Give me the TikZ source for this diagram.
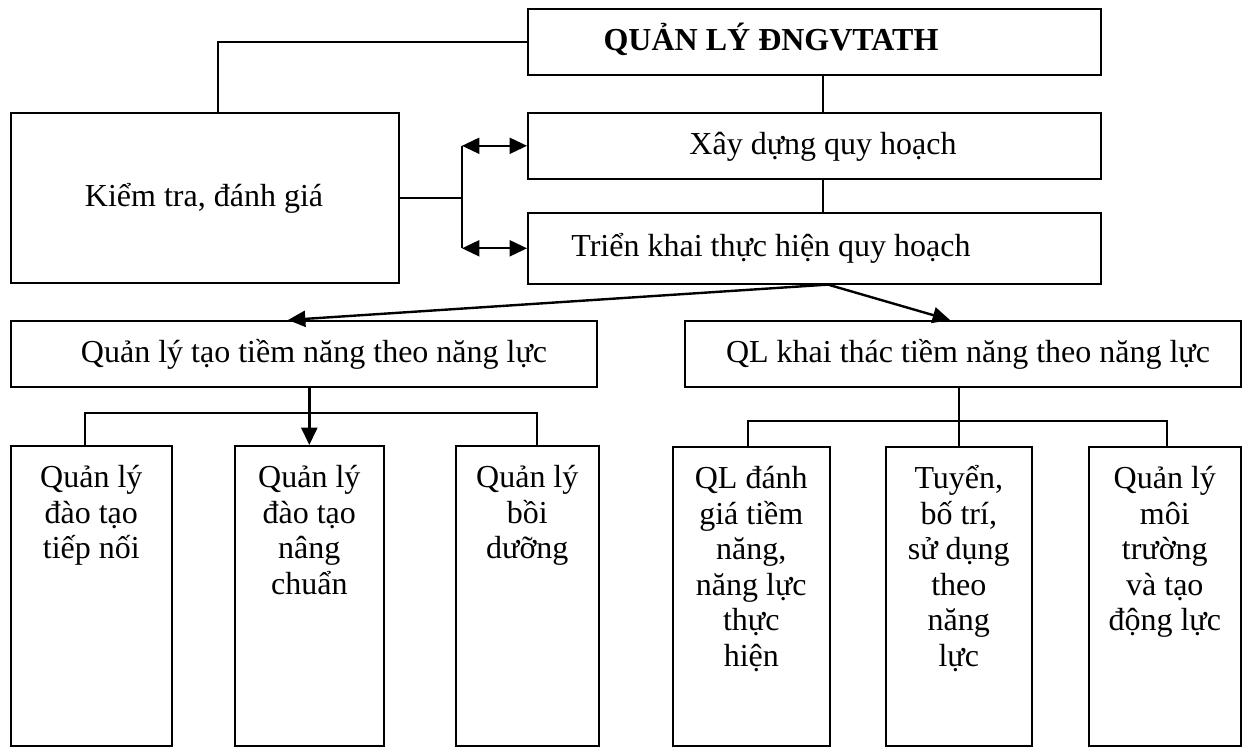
\documentclass[tikz,border=0pt]{standalone}
\usepackage{fontspec}
\setmainfont{Liberation Serif}
\usetikzlibrary{arrows.meta,calc}
\newcommand\colbox[3]{\parbox[c][#2][t]{#1}{\centering\rule{0pt}{31.5pt}#3}}
\begin{document}
\begin{tikzpicture}[x=0.75pt,y=-0.75pt,
  box/.style={draw, line width=1.2pt, inner sep=0pt, anchor=north west},
  lbl/.style={inner sep=0pt, anchor=base, font=\fontsize{24}{26.6}\selectfont},
  col/.style={box, font=\fontsize{24}{26.6}\selectfont},
  conn/.style={line width=1.2pt},
  arr/.style={line width=1.8pt, -{Triangle[length=13pt,width=12pt]}},
  darr/.style={line width=1.5pt, {Triangle[length=13pt,width=12pt]}-{Triangle[length=13pt,width=12pt]}},
]
\useasboundingbox (0,0) rectangle (1252,749);
% boxes
\node[box, minimum width=429.75pt, minimum height=49.5pt] (top) at (527,8) {};
\node[box, minimum width=291pt, minimum height=127.5pt] (kt) at (10,112) {};
\node[box, minimum width=429.75pt, minimum height=49.5pt] (xd) at (527,112) {};
\node[box, minimum width=429.75pt, minimum height=53.25pt] (tk) at (527,212) {};
\node[box, minimum width=439.5pt, minimum height=49.5pt] (ql1) at (10,320) {};
\node[box, minimum width=417pt, minimum height=49.5pt] (ql2) at (684,320) {};
% texts
\node[lbl] (topT) at (771,51) {\bfseries QUẢN LÝ ĐNGVTATH};
\node[lbl] (xdT) at (823,154) {Xây dựng quy hoạch};
\node[lbl] (tkT) at (771,256) {Triển khai thực hiện quy hoạch};
\node[lbl] (ktT) at (204,206) {Kiểm tra, đánh giá};
\node[lbl] (q1T) at (314,362) {Quản lý tạo tiềm năng theo năng lực};
\node[lbl] (q2T) at (968,362) {QL khai thác tiềm năng theo năng lực};
% bottom columns
\node[col] (b1) at (10,445) {\colbox{120.75pt}{225pt}{Quản lý\\ đào tạo\\ tiếp nối}};
\node[col] (b2) at (234,445) {\colbox{111.75pt}{225pt}{Quản lý\\ đào tạo\\ nâng\\ chuẩn}};
\node[col] (b3) at (455,445) {\colbox{107.25pt}{225pt}{Quản lý\\ bồi\\ dưỡng}};
\node[col] (b4) at (672,446) {\colbox{117.75pt}{224.25pt}{QL đánh\\ giá tiềm\\ năng,\\ năng lực\\ thực\\ hiện}};
\node[col] (b5) at (885,446) {\colbox{109.5pt}{224.25pt}{Tuyển,\\ bố trí,\\ sử dụng\\ theo\\ năng\\ lực}};
\node[col] (b6) at (1088,446) {\colbox{114pt}{224.25pt}{Quản lý\\ môi\\ trường\\ và tạo\\ động lực}};
% connectors
\draw[conn] (top.west) -| ($(kt.north west)+(208,0)$);
\draw[conn] ($(top.south west)+(296,0)$) -- ($(xd.north west)+(296,0)$);
\draw[conn] ($(xd.south west)+(296,0)$) -- ($(tk.north west)+(296,0)$);
\coordinate (j) at (462,197);
\draw[conn] (kt.east) -- (kt.east -| j);
\draw[conn] (j |- xd.west) -- (j |- tk.west);
\draw[darr] (j |- xd.west) -- (xd.west);
\draw[darr] (j |- tk.west) -- (tk.west);
\coordinate (s) at ($(tk.south west)+(301,0)$);
\draw[arr] (s) -- ($(ql1.north west)+(278,0)$);
\draw[arr] (s) -- ($(ql2.north west)+(266,0)$);
\draw[arr] (ql1.south -| b2.north) -- (b2.north);
% left bracket
\coordinate (l1) at ($(b1.north west)+(75,0)$);
\coordinate (l3) at ($(b3.north west)+(82,0)$);
\coordinate (lb) at (0,413);
\draw[conn] (l1) |- (l3 |- lb) -- (l3);
% right bracket
\coordinate (r1) at ($(b4.north west)+(76,0)$);
\coordinate (r3) at ($(b6.north west)+(79,0)$);
\coordinate (rb) at (0,421);
\draw[conn] (ql2.south -| b5.north) -- (b5.north);
\draw[conn] (r1) |- (r3 |- rb) -- (r3);
\end{tikzpicture}
\end{document}
